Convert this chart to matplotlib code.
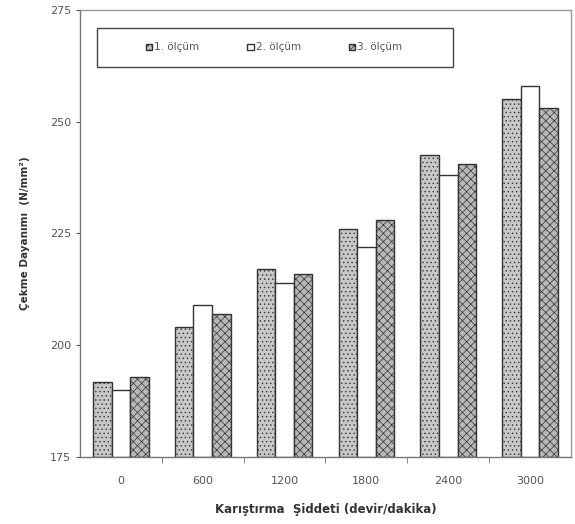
import matplotlib
matplotlib.use("Agg")
import matplotlib.pyplot as plt
from matplotlib.patches import Rectangle
import numpy as np

categories = ["0", "600", "1200", "1800", "2400", "3000"]
olcum1 = [191.8, 204.0, 217.0, 226.0, 242.5, 255.0]
olcum2 = [190.0, 209.0, 214.0, 222.0, 238.0, 258.0]
olcum3 = [192.8, 207.0, 216.0, 228.0, 240.5, 253.0]
series_names = ["1. ölçüm", "2. ölçüm", "3. ölçüm"]

plt.rcParams['hatch.color'] = '#888888'
plt.rcParams['hatch.linewidth'] = 0.5

fig = plt.figure(figsize=(5.75, 5.24), dpi=100)
ax = fig.add_axes([0.139, 0.128, 0.854, 0.853])

x = np.arange(len(categories))
w = 0.227
styles = [
    dict(facecolor="#c8c8c8", hatch="...."),
    dict(facecolor="white", hatch=None),
    dict(facecolor="#b8b8b8", hatch="xxxx"),
]
for i, (vals, st) in enumerate(zip([olcum1, olcum2, olcum3], styles)):
    ax.bar(x + (i - 1) * w, np.array(vals) - 175, bottom=175, width=w,
           facecolor=st["facecolor"], hatch=st["hatch"], edgecolor="#333333",
           linewidth=1.0, label=series_names[i])

ax.set_ylim(175, 275)
ax.set_xlim(-0.5, len(categories) - 0.5)
ax.set_yticks([175, 200, 225, 250, 275])
ax.set_xticks(x)
ax.set_xticklabels(categories)
ax.set_xticks(np.arange(0.5, len(categories) - 0.5), minor=True)
ax.tick_params(axis="x", which="major", length=0, pad=14, labelsize=8, colors="#555555")
ax.tick_params(axis="x", which="minor", length=4, direction="out", color="#777777")
ax.tick_params(axis="y", length=3, direction="out", labelsize=8, colors="#555555")
for s in ax.spines.values():
    s.set_color("#999999")
    s.set_linewidth(1.0)
ax.spines["left"].set_color("#777777")
ax.spines["bottom"].set_color("#777777")

ax.set_ylabel("Çekme Dayanımı  (N/mm²)", fontsize=7.5, fontweight="bold", color="#333333", labelpad=14)
ax.set_xlabel("Karıştırma  Şiddeti (devir/dakika)", fontsize=8.5, fontweight="bold", color="#333333", labelpad=12)

# legend frame
fig.patches.append(Rectangle((97 / 575, 1 - 67 / 524), 356 / 575, 39 / 524,
                             transform=fig.transFigure, facecolor="white",
                             edgecolor="#444444", linewidth=1.0, zorder=5))
leg = fig.legend(loc="center", bbox_to_anchor=(274 / 575, 1 - 47.5 / 524),
                 ncol=3, fontsize=7.5, frameon=False, handlelength=0.6,
                 handleheight=0.6, handletextpad=0.2, columnspacing=4.6,
                 labelcolor="#555555")
leg.set_zorder(6)

fig.savefig("out.png", dpi=100)
